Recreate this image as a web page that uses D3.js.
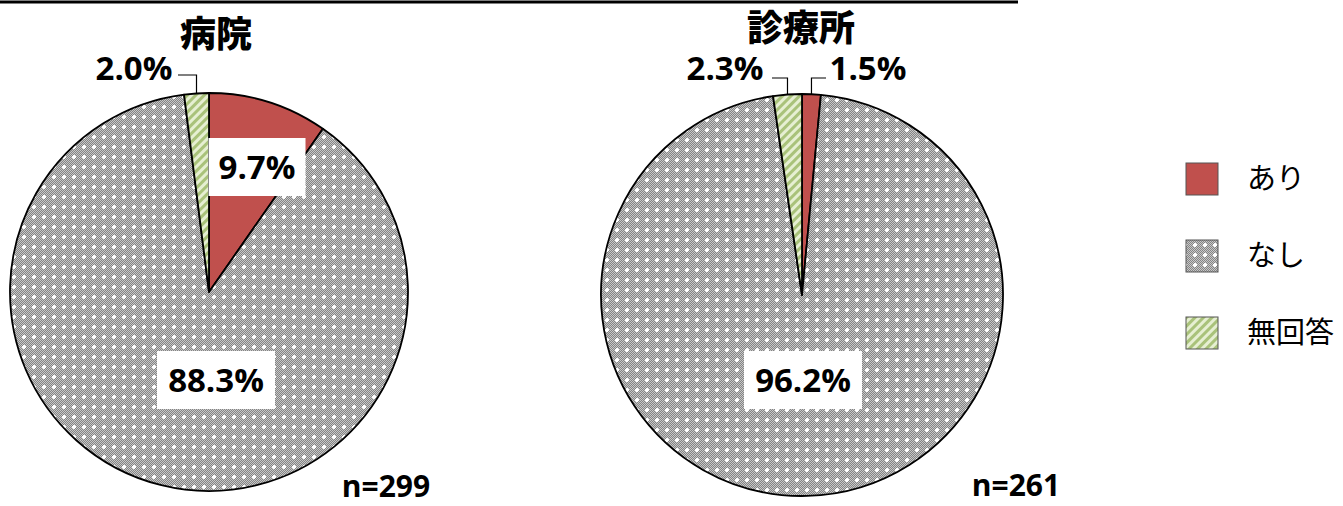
<!DOCTYPE html>
<html><head><meta charset="utf-8">
<script src="https://cdn.jsdelivr.net/npm/d3@7"></script>
<style>body{margin:0;background:#fff}svg{display:block}</style>
</head><body>
<svg id="c" width="1343" height="506"></svg>
<script>
const categories = ["あり", "なし", "無回答"];
const titles = ["病院", "診療所"];
const hospitalValues = [9.7, 88.3, 2.0];
const clinicValues = [1.5, 96.2, 2.3];
const sampleSizes = ["n=299", "n=261"];

const svg = d3.select("#c");
const defs = svg.append("defs");
// grey dotted pattern
const T = 10;
const pg = defs.append("pattern").attr("id","pGrey").attr("patternUnits","userSpaceOnUse").attr("width",T).attr("height",T);
pg.append("rect").attr("width",T).attr("height",T).attr("fill","#c8c8c8");
for(let y=0;y<T;y++)for(let x=0;x<T;x++){ if((x+y)%2===0) pg.append("rect").attr("x",x).attr("y",y).attr("width",1).attr("height",1).attr("fill","#848484"); }
pg.append("rect").attr("x",4).attr("y",3).attr("width",2).attr("height",4).attr("fill","#fff");
pg.append("rect").attr("x",3).attr("y",4).attr("width",4).attr("height",2).attr("fill","#fff");
// green hatched pattern
const gg = defs.append("pattern").attr("id","pGreen").attr("patternUnits","userSpaceOnUse").attr("width",6).attr("height",6).attr("patternTransform","rotate(45)");
gg.append("rect").attr("width",6).attr("height",6).attr("fill","#e6efd2");
gg.append("rect").attr("width",3).attr("height",6).attr("fill","#a9c27a");

const fills = d3.scaleOrdinal().domain(categories).range(["#c0504d","url(#pGrey)","url(#pGreen)"]);

// top rule
svg.append("line").attr("x1",0).attr("x2",1018).attr("y1",2).attr("y2",2).attr("stroke","#000").attr("stroke-width",3);

const numFont = "'Open Sans', 'Noto Sans', sans-serif";
const jpFont = "'Noto Sans CJK JP', sans-serif";

const charts = [
  {values: hospitalValues, title: titles[0], n: sampleSizes[0], cx: 209, cy: 292, r: 199,
   titlePos:[216,47], nPos:[386,497],
   inside: {0:[257,167,97,58], 1:[216,380,118,58]},
   outside: {2:{tx:134, ty:80, lx:178, ly:75}}},
  {values: clinicValues, title: titles[1], n: sampleSizes[1], cx: 802, cy: 295, r: 201,
   titlePos:[801,41], nPos:[1016,496],
   inside: {1:[803,380,118,58]},
   outside: {2:{tx:725, ty:80, lx:772, ly:78}, 0:{tx:868, ty:80, lx:826, ly:78}}}
];

const pie = d3.pie().sort(null).value(d=>d.v);

charts.forEach(ch => {
  const data = categories.map((c,i)=>({c, v: ch.values[i]}));
  const arcs = pie(data);
  const arc = d3.arc().innerRadius(0).outerRadius(ch.r);
  const g = svg.append("g").attr("transform",`translate(${ch.cx},${ch.cy})`);
  g.selectAll("path").data(arcs).join("path")
    .attr("d",arc).attr("fill",d=>fills(d.data.c)).attr("stroke","#000").attr("stroke-width",1.8).attr("stroke-linejoin","round");

  svg.append("text").attr("x",ch.titlePos[0]).attr("y",ch.titlePos[1]).attr("text-anchor","middle")
    .attr("font-family",jpFont).attr("font-weight",900).attr("font-size",36).text(ch.title);
  svg.append("text").attr("x",ch.nPos[0]).attr("y",ch.nPos[1]).attr("text-anchor","middle")
    .attr("font-family",numFont).attr("font-weight",700).attr("font-size",30).text(ch.n);

  arcs.forEach((a,i) => {
    const label = a.data.v.toFixed(1) + "%";
    if (ch.inside[i]) {
      const [x,y,w,h] = ch.inside[i];
      svg.append("rect").attr("x",x-w/2).attr("y",y-h/2).attr("width",w).attr("height",h).attr("fill","#fff");
      svg.append("text").attr("x",x).attr("y",y+12).attr("text-anchor","middle")
        .attr("font-family",numFont).attr("font-weight",700).attr("font-size",33).text(label);
    } else if (ch.outside[i]) {
      const o = ch.outside[i];
      const mid = (a.startAngle+a.endAngle)/2;
      const ex = ch.cx + ch.r*Math.sin(mid), ey = ch.cy - ch.r*Math.cos(mid);
      svg.append("path").attr("d",`M${ex},${ey}L${ex},${o.ly}L${o.lx},${o.ly}`)
        .attr("fill","none").attr("stroke","#000").attr("stroke-width",1.2);
      svg.append("text").attr("x",o.tx).attr("y",o.ty).attr("text-anchor","middle")
        .attr("font-family",numFont).attr("font-weight",700).attr("font-size",33).text(label);
    }
  });
});

// legend
const leg = svg.append("g");
categories.forEach((c,i)=>{
  const y = 179 + i*77;
  leg.append("rect").attr("x",1186).attr("y",y-16).attr("width",32).attr("height",32)
    .attr("fill",fills(c)).attr("stroke","#555").attr("stroke-width",1);
  leg.append("text").attr("x",1247).attr("y",y+10).attr("font-family",jpFont).attr("font-size",29).text(c);
});
</script>
</body></html>
